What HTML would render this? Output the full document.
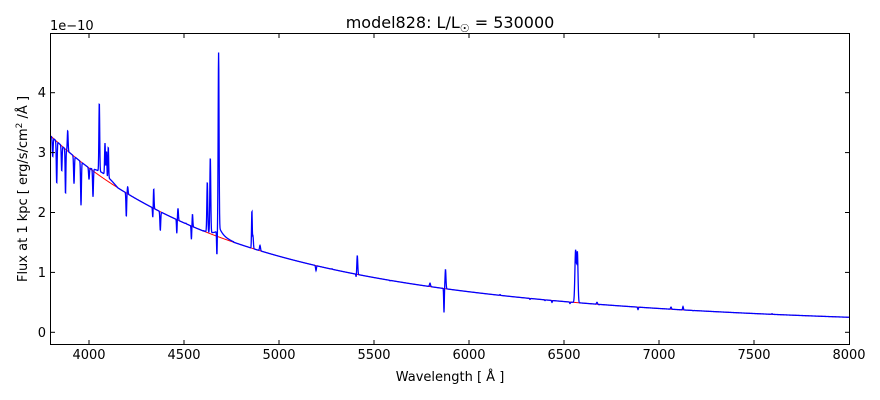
<!DOCTYPE html>
<html><head><meta charset="utf-8"><style>
html,body{margin:0;padding:0;background:#fff;}
svg{display:block;font-family:"DejaVu Sans","Liberation Sans",sans-serif;}
</style></head><body>
<svg id="s" width="880" height="400" viewBox="0 0 880 400" xmlns="http://www.w3.org/2000/svg">
<rect width="880" height="400" fill="#fff"/>
<g id="plot"></g>
<rect x="50.5" y="33.5" width="799" height="311" fill="none" stroke="#000" stroke-width="1"/>
<g id="ticks" stroke="#000" stroke-width="1"></g>
<g font-size="13" fill="#000" text-anchor="middle">
<text x="89" y="359">4000</text><text x="184" y="359">4500</text><text x="279" y="359">5000</text>
<text x="374" y="359">5500</text><text x="469" y="359">6000</text><text x="564" y="359">6500</text>
<text x="659" y="359">7000</text><text x="754" y="359">7500</text><text x="849" y="359">8000</text>
</g>
<g font-size="13" fill="#000" text-anchor="end">
<text x="46" y="337">0</text><text x="46" y="277">1</text><text x="46" y="217">2</text>
<text x="46" y="157">3</text><text x="46" y="97">4</text>
</g>
<text x="50" y="30" font-size="13">1e−10</text>
<text x="450" y="28" font-size="16" text-anchor="middle">model828: L/L<tspan font-size="11" dy="4">☉</tspan><tspan dy="-4"> = 530000</tspan></text>
<text x="450" y="381" font-size="13" text-anchor="middle">Wavelength [ Å ]</text>
<text transform="translate(27,189) rotate(-90)" font-size="13" text-anchor="middle">Flux at 1 kpc [ erg/s/cm<tspan font-size="9" dy="-5">2</tspan><tspan dy="5"> /Å ]</tspan></text>
</svg>
<script>
var y0=332.3,py=59.9;
function lam(x){return 3800+(x-51.3)/0.19;}
function cont(x){return 3.27*Math.pow(3800/lam(x),3.45);}
function Y(v){return y0-v*py;}
var F=[
[52.7,2.93,0.4],[56.7,2.48,0.4],[61.7,2.69,0.4],[65.5,2.3,0.35],[67.7,3.37,0.4],
[74,2.48,0.4],[81,2.12,0.4],[89,2.55,0.4],[93,2.23,0.4],[99.3,3.77,0.4],[105,3.08,0.4],[106.5,2.95,0.4],
[108.3,3.03,0.35],[107.2,2.47,0.25],[126.3,1.93,0.35],[127.7,2.43,0.4],[153.7,2.4,0.35],[152.8,1.91,0.3],
[160.3,1.7,0.4],[176.8,1.65,0.3],[178,2.07,0.4],[186,1.82,0.4],[191.4,1.55,0.3],[192.5,1.97,0.35],
[207.3,2.5,0.45],[210.3,2.9,0.45],[218.6,4.55,0.45],[216.9,1.2,0.3],[251.9,2.03,0.35],[253,1.6,0.4],
[260,1.45,0.5],[357.3,1.28,0.45],[356.2,0.92,0.3],[445.5,1.05,0.45],[444,0.33,0.3],[575.6,1.37,0.7],[577.4,1.32,0.6],
[316,1.03,0.4],[332,1.06,0.4],[390,0.86,0.4],[430,0.82,0.5],[500,0.63,0.4],[530,0.55,0.4],[545,0.53,0.4],
[552,0.5,0.4],[570,0.48,0.4],[597,0.5,0.5],[599,0.46,0.4],[638,0.38,0.4],[671,0.42,0.5],[683,0.43,0.4],[693,0.36,0.4],[772,0.31,0.4]];
var amps=F.map(function(f){return [f[0],f[1]-cont(f[0]),f[2]];});
var rd="",bd="";
for(var x=51;x<=849.5;x+=0.2){
 var c=cont(x),v=c;
 var l=lam(x);
 if(l>4000&&l<4150)v+=0.08*Math.sin((l-4000)/150*Math.PI);
 if(l>4600&&l<4760)v+=0.15*Math.exp(-Math.abs(l-4686)/25);
 for(var i=0;i<amps.length;i++){var d=(x-amps[i][0])/amps[i][2];if(Math.abs(d)<6)v+=amps[i][1]*Math.exp(-0.5*d*d);}
 rd+=(rd?"L":"M")+x.toFixed(2)+","+Y(c).toFixed(2);
 bd+=(bd?"L":"M")+x.toFixed(2)+","+Y(v).toFixed(2);
}
var g=document.getElementById("plot");
g.innerHTML='<path d="'+rd+'" fill="none" stroke="#f00" stroke-width="1"/><path d="'+bd+'" fill="none" stroke="#00f" stroke-width="1.3"/>';
var t="",xs=[89,184,279,374,469,564,659,754];
xs.forEach(function(x){t+='<line x1="'+x+'" y1="344" x2="'+x+'" y2="340"/><line x1="'+x+'" y1="34" x2="'+x+'" y2="38"/>';});
[0,1,2,3,4].forEach(function(k){var y=Y(k);t+='<line x1="51" y1="'+y+'" x2="55" y2="'+y+'"/><line x1="849" y1="'+y+'" x2="845" y2="'+y+'"/>';});
document.getElementById("ticks").innerHTML=t;
</script>
</body></html>
